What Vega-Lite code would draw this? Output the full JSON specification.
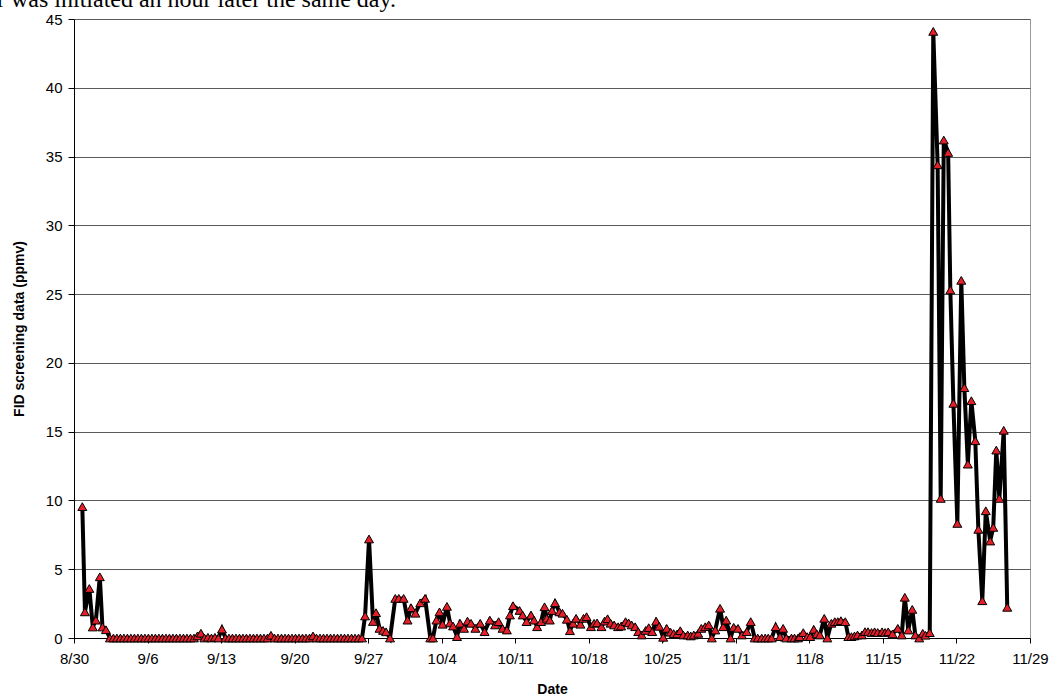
{
  "$schema": "https://vega.github.io/schema/vega-lite/v6.json",
  "autosize": "none",
  "width": 956,
  "height": 619,
  "padding": {"left": 74, "top": 19, "right": 21, "bottom": 60},
  "background": "white",
  "title": {
    "text": "r was initiated an hour later the same day.",
    "anchor": "start",
    "frame": "group",
    "font": "Liberation Serif",
    "fontSize": 24,
    "fontWeight": "normal",
    "color": "black",
    "baseline": "alphabetic",
    "offset": 0,
    "dx": -77,
    "dy": 19
  },
  "config": {
    "font": "Liberation Sans",
    "view": {"stroke": "#9a9a9a", "strokeWidth": 1}
  },
  "data": {
    "values": [
      {"t": "2008-08-30T19:00", "v": 9.55},
      {"t": "2008-08-31T01:00", "v": 1.9},
      {"t": "2008-08-31T11:00", "v": 3.6},
      {"t": "2008-08-31T19:00", "v": 0.8},
      {"t": "2008-09-01T02:00", "v": 1.3},
      {"t": "2008-09-01T11:00", "v": 4.45},
      {"t": "2008-09-01T17:00", "v": 0.8},
      {"t": "2008-09-02T01:00", "v": 0.6},
      {"t": "2008-09-02T10:00", "v": 0},
      {"t": "2008-09-02T18:00", "v": 0},
      {"t": "2008-09-03T02:00", "v": 0},
      {"t": "2008-09-03T10:00", "v": 0},
      {"t": "2008-09-03T18:00", "v": 0},
      {"t": "2008-09-04T02:00", "v": 0},
      {"t": "2008-09-04T10:00", "v": 0},
      {"t": "2008-09-04T18:00", "v": 0},
      {"t": "2008-09-05T02:00", "v": 0},
      {"t": "2008-09-05T10:00", "v": 0},
      {"t": "2008-09-05T18:00", "v": 0},
      {"t": "2008-09-06T02:00", "v": 0},
      {"t": "2008-09-06T10:00", "v": 0},
      {"t": "2008-09-06T18:00", "v": 0},
      {"t": "2008-09-07T02:00", "v": 0},
      {"t": "2008-09-07T10:00", "v": 0},
      {"t": "2008-09-07T18:00", "v": 0},
      {"t": "2008-09-08T02:00", "v": 0},
      {"t": "2008-09-08T10:00", "v": 0},
      {"t": "2008-09-08T18:00", "v": 0},
      {"t": "2008-09-09T02:00", "v": 0},
      {"t": "2008-09-09T10:00", "v": 0},
      {"t": "2008-09-09T18:00", "v": 0},
      {"t": "2008-09-10T02:00", "v": 0},
      {"t": "2008-09-10T10:00", "v": 0},
      {"t": "2008-09-10T18:00", "v": 0.15},
      {"t": "2008-09-11T02:00", "v": 0.35},
      {"t": "2008-09-11T10:00", "v": 0},
      {"t": "2008-09-11T18:00", "v": 0.05},
      {"t": "2008-09-12T02:00", "v": 0},
      {"t": "2008-09-12T10:00", "v": 0.05},
      {"t": "2008-09-12T18:00", "v": 0},
      {"t": "2008-09-13T02:00", "v": 0.65},
      {"t": "2008-09-13T10:00", "v": 0},
      {"t": "2008-09-13T18:00", "v": 0},
      {"t": "2008-09-14T02:00", "v": 0},
      {"t": "2008-09-14T10:00", "v": 0},
      {"t": "2008-09-14T18:00", "v": 0},
      {"t": "2008-09-15T02:00", "v": 0},
      {"t": "2008-09-15T10:00", "v": 0},
      {"t": "2008-09-15T18:00", "v": 0},
      {"t": "2008-09-16T02:00", "v": 0},
      {"t": "2008-09-16T10:00", "v": 0},
      {"t": "2008-09-16T18:00", "v": 0},
      {"t": "2008-09-17T02:00", "v": 0},
      {"t": "2008-09-17T10:00", "v": 0},
      {"t": "2008-09-17T18:00", "v": 0.2},
      {"t": "2008-09-18T02:00", "v": 0},
      {"t": "2008-09-18T10:00", "v": 0},
      {"t": "2008-09-18T18:00", "v": 0},
      {"t": "2008-09-19T02:00", "v": 0},
      {"t": "2008-09-19T10:00", "v": 0},
      {"t": "2008-09-19T18:00", "v": 0},
      {"t": "2008-09-20T02:00", "v": 0},
      {"t": "2008-09-20T10:00", "v": 0},
      {"t": "2008-09-20T18:00", "v": 0},
      {"t": "2008-09-21T02:00", "v": 0},
      {"t": "2008-09-21T10:00", "v": 0},
      {"t": "2008-09-21T18:00", "v": 0.15},
      {"t": "2008-09-22T02:00", "v": 0},
      {"t": "2008-09-22T10:00", "v": 0},
      {"t": "2008-09-22T18:00", "v": 0},
      {"t": "2008-09-23T02:00", "v": 0},
      {"t": "2008-09-23T10:00", "v": 0},
      {"t": "2008-09-23T18:00", "v": 0},
      {"t": "2008-09-24T02:00", "v": 0},
      {"t": "2008-09-24T10:00", "v": 0},
      {"t": "2008-09-24T18:00", "v": 0},
      {"t": "2008-09-25T02:00", "v": 0},
      {"t": "2008-09-25T10:00", "v": 0},
      {"t": "2008-09-25T18:00", "v": 0},
      {"t": "2008-09-26T02:00", "v": 0},
      {"t": "2008-09-26T10:00", "v": 0},
      {"t": "2008-09-26T17:00", "v": 1.6},
      {"t": "2008-09-27T02:00", "v": 7.2},
      {"t": "2008-09-27T11:00", "v": 1.2},
      {"t": "2008-09-27T18:00", "v": 1.84},
      {"t": "2008-09-28T02:00", "v": 0.7},
      {"t": "2008-09-28T10:00", "v": 0.55},
      {"t": "2008-09-28T17:00", "v": 0.45},
      {"t": "2008-09-29T02:00", "v": 0},
      {"t": "2008-09-29T14:00", "v": 2.88},
      {"t": "2008-09-29T22:00", "v": 2.88},
      {"t": "2008-09-30T09:00", "v": 2.88},
      {"t": "2008-09-30T18:00", "v": 1.3},
      {"t": "2008-10-01T02:00", "v": 2.2},
      {"t": "2008-10-01T12:00", "v": 1.8},
      {"t": "2008-10-01T23:00", "v": 2.56},
      {"t": "2008-10-02T10:00", "v": 2.88},
      {"t": "2008-10-02T22:00", "v": 0},
      {"t": "2008-10-03T04:00", "v": 0},
      {"t": "2008-10-03T12:00", "v": 1.3},
      {"t": "2008-10-03T19:00", "v": 1.9},
      {"t": "2008-10-04T02:00", "v": 1.0},
      {"t": "2008-10-04T12:00", "v": 2.3},
      {"t": "2008-10-04T19:00", "v": 1.1},
      {"t": "2008-10-05T02:00", "v": 0.87},
      {"t": "2008-10-05T11:00", "v": 0.1},
      {"t": "2008-10-05T18:00", "v": 1.07},
      {"t": "2008-10-06T03:00", "v": 0.7},
      {"t": "2008-10-06T11:00", "v": 1.23},
      {"t": "2008-10-06T19:00", "v": 1.07},
      {"t": "2008-10-07T05:00", "v": 0.7},
      {"t": "2008-10-07T16:00", "v": 1.07},
      {"t": "2008-10-08T02:00", "v": 0.46},
      {"t": "2008-10-08T14:00", "v": 1.3},
      {"t": "2008-10-09T02:00", "v": 0.95},
      {"t": "2008-10-09T10:00", "v": 1.19},
      {"t": "2008-10-09T19:00", "v": 0.7},
      {"t": "2008-10-10T05:00", "v": 0.58},
      {"t": "2008-10-10T12:00", "v": 1.67},
      {"t": "2008-10-10T19:00", "v": 2.35},
      {"t": "2008-10-11T10:00", "v": 2.0},
      {"t": "2008-10-11T17:00", "v": 1.67},
      {"t": "2008-10-12T02:00", "v": 1.19},
      {"t": "2008-10-12T12:00", "v": 1.67},
      {"t": "2008-10-12T19:00", "v": 1.3},
      {"t": "2008-10-13T02:00", "v": 0.82},
      {"t": "2008-10-13T11:00", "v": 1.19},
      {"t": "2008-10-13T19:00", "v": 2.27},
      {"t": "2008-10-14T00:00", "v": 1.43},
      {"t": "2008-10-14T07:00", "v": 1.3},
      {"t": "2008-10-14T12:00", "v": 2.0},
      {"t": "2008-10-14T19:00", "v": 2.56},
      {"t": "2008-10-15T05:00", "v": 1.9},
      {"t": "2008-10-15T12:00", "v": 1.8},
      {"t": "2008-10-15T22:00", "v": 1.36},
      {"t": "2008-10-16T05:00", "v": 0.53},
      {"t": "2008-10-16T12:00", "v": 1.07},
      {"t": "2008-10-16T19:00", "v": 1.43},
      {"t": "2008-10-17T05:00", "v": 1.0},
      {"t": "2008-10-17T12:00", "v": 1.43},
      {"t": "2008-10-17T19:00", "v": 1.55},
      {"t": "2008-10-18T05:00", "v": 0.82},
      {"t": "2008-10-18T12:00", "v": 1.07},
      {"t": "2008-10-18T19:00", "v": 1.1},
      {"t": "2008-10-19T05:00", "v": 0.82},
      {"t": "2008-10-19T12:00", "v": 1.23},
      {"t": "2008-10-19T19:00", "v": 1.4},
      {"t": "2008-10-20T02:00", "v": 1.07},
      {"t": "2008-10-20T10:00", "v": 0.95},
      {"t": "2008-10-20T19:00", "v": 0.82},
      {"t": "2008-10-21T02:00", "v": 0.87},
      {"t": "2008-10-21T12:00", "v": 1.19},
      {"t": "2008-10-21T19:00", "v": 1.1},
      {"t": "2008-10-22T02:00", "v": 0.95},
      {"t": "2008-10-22T10:00", "v": 0.82},
      {"t": "2008-10-22T17:00", "v": 0.46},
      {"t": "2008-10-23T01:00", "v": 0.22},
      {"t": "2008-10-23T10:00", "v": 0.55},
      {"t": "2008-10-23T17:00", "v": 0.75},
      {"t": "2008-10-24T01:00", "v": 0.46},
      {"t": "2008-10-24T10:00", "v": 1.22},
      {"t": "2008-10-24T17:00", "v": 0.85},
      {"t": "2008-10-25T02:00", "v": 0.05},
      {"t": "2008-10-25T10:00", "v": 0.7},
      {"t": "2008-10-25T19:00", "v": 0.42},
      {"t": "2008-10-26T02:00", "v": 0.32},
      {"t": "2008-10-26T10:00", "v": 0.3},
      {"t": "2008-10-26T17:00", "v": 0.53},
      {"t": "2008-10-27T00:00", "v": 0.22},
      {"t": "2008-10-27T10:00", "v": 0.22},
      {"t": "2008-10-27T17:00", "v": 0.15},
      {"t": "2008-10-28T00:00", "v": 0.22},
      {"t": "2008-10-28T10:00", "v": 0.34},
      {"t": "2008-10-28T17:00", "v": 0.7},
      {"t": "2008-10-29T02:00", "v": 0.82},
      {"t": "2008-10-29T10:00", "v": 0.95},
      {"t": "2008-10-29T17:00", "v": 0},
      {"t": "2008-10-30T01:00", "v": 0.58},
      {"t": "2008-10-30T12:00", "v": 2.16},
      {"t": "2008-10-30T19:00", "v": 0.82},
      {"t": "2008-10-31T02:00", "v": 1.3},
      {"t": "2008-10-31T12:00", "v": 0},
      {"t": "2008-10-31T19:00", "v": 0.78},
      {"t": "2008-11-01T05:00", "v": 0.7},
      {"t": "2008-11-01T14:00", "v": 0.22},
      {"t": "2008-11-02T01:00", "v": 0.46},
      {"t": "2008-11-02T10:00", "v": 1.19},
      {"t": "2008-11-02T19:00", "v": 0},
      {"t": "2008-11-03T02:00", "v": 0},
      {"t": "2008-11-03T11:00", "v": 0},
      {"t": "2008-11-03T19:00", "v": 0},
      {"t": "2008-11-04T02:00", "v": 0},
      {"t": "2008-11-04T10:00", "v": 0},
      {"t": "2008-11-04T19:00", "v": 0.82},
      {"t": "2008-11-05T05:00", "v": 0.1},
      {"t": "2008-11-05T12:00", "v": 0.7},
      {"t": "2008-11-05T19:00", "v": 0},
      {"t": "2008-11-06T07:00", "v": 0},
      {"t": "2008-11-06T14:00", "v": 0},
      {"t": "2008-11-06T22:00", "v": 0},
      {"t": "2008-11-07T02:00", "v": 0.1},
      {"t": "2008-11-07T10:00", "v": 0.39},
      {"t": "2008-11-07T19:00", "v": 0.1},
      {"t": "2008-11-08T02:00", "v": 0.1},
      {"t": "2008-11-08T10:00", "v": 0.63},
      {"t": "2008-11-08T17:00", "v": 0.3},
      {"t": "2008-11-09T00:00", "v": 0.22},
      {"t": "2008-11-09T10:00", "v": 1.43},
      {"t": "2008-11-09T17:00", "v": 0},
      {"t": "2008-11-10T02:00", "v": 1.07},
      {"t": "2008-11-10T10:00", "v": 1.19},
      {"t": "2008-11-10T17:00", "v": 1.19},
      {"t": "2008-11-11T00:00", "v": 1.26},
      {"t": "2008-11-11T10:00", "v": 1.19},
      {"t": "2008-11-11T17:00", "v": 0.1},
      {"t": "2008-11-12T00:00", "v": 0.1},
      {"t": "2008-11-12T07:00", "v": 0.15},
      {"t": "2008-11-12T14:00", "v": 0.22},
      {"t": "2008-11-13T00:00", "v": 0.22},
      {"t": "2008-11-13T07:00", "v": 0.46},
      {"t": "2008-11-13T14:00", "v": 0.46},
      {"t": "2008-11-13T22:00", "v": 0.4},
      {"t": "2008-11-14T05:00", "v": 0.45},
      {"t": "2008-11-14T12:00", "v": 0.4},
      {"t": "2008-11-14T22:00", "v": 0.45},
      {"t": "2008-11-15T05:00", "v": 0.4},
      {"t": "2008-11-15T12:00", "v": 0.45},
      {"t": "2008-11-15T22:00", "v": 0.3},
      {"t": "2008-11-16T10:00", "v": 0.7},
      {"t": "2008-11-16T19:00", "v": 0.22},
      {"t": "2008-11-17T02:00", "v": 2.96},
      {"t": "2008-11-17T10:00", "v": 0.58},
      {"t": "2008-11-17T19:00", "v": 2.08},
      {"t": "2008-11-18T02:00", "v": 0.22},
      {"t": "2008-11-18T11:00", "v": 0},
      {"t": "2008-11-18T19:00", "v": 0.34},
      {"t": "2008-11-19T01:00", "v": 0.2},
      {"t": "2008-11-19T11:00", "v": 0.39},
      {"t": "2008-11-19T19:00", "v": 44.1},
      {"t": "2008-11-20T05:00", "v": 34.4},
      {"t": "2008-11-20T12:00", "v": 10.15},
      {"t": "2008-11-20T19:00", "v": 36.2},
      {"t": "2008-11-21T05:00", "v": 35.3},
      {"t": "2008-11-21T10:00", "v": 25.3},
      {"t": "2008-11-21T17:00", "v": 17.06},
      {"t": "2008-11-22T02:00", "v": 8.33},
      {"t": "2008-11-22T11:00", "v": 26.0},
      {"t": "2008-11-22T18:00", "v": 18.2},
      {"t": "2008-11-23T02:00", "v": 12.64},
      {"t": "2008-11-23T10:00", "v": 17.25},
      {"t": "2008-11-23T19:00", "v": 14.34},
      {"t": "2008-11-24T02:00", "v": 7.9},
      {"t": "2008-11-24T11:00", "v": 2.71},
      {"t": "2008-11-24T19:00", "v": 9.25},
      {"t": "2008-11-25T05:00", "v": 7.05},
      {"t": "2008-11-25T12:00", "v": 8.04},
      {"t": "2008-11-25T19:00", "v": 13.66},
      {"t": "2008-11-26T02:00", "v": 10.15},
      {"t": "2008-11-26T12:00", "v": 15.1},
      {"t": "2008-11-26T20:00", "v": 2.23}
    ]
  },
  "encoding": {
    "x": {
      "field": "t",
      "type": "temporal",
      "scale": {
        "domain": [{"year": 2008, "month": 8, "date": 30}, {"year": 2008, "month": 11, "date": 29}],
        "nice": false
      },
      "axis": {
        "values": [
          {"year": 2008, "month": 8, "date": 30},
          {"year": 2008, "month": 9, "date": 6},
          {"year": 2008, "month": 9, "date": 13},
          {"year": 2008, "month": 9, "date": 20},
          {"year": 2008, "month": 9, "date": 27},
          {"year": 2008, "month": 10, "date": 4},
          {"year": 2008, "month": 10, "date": 11},
          {"year": 2008, "month": 10, "date": 18},
          {"year": 2008, "month": 10, "date": 25},
          {"year": 2008, "month": 11, "date": 1},
          {"year": 2008, "month": 11, "date": 8},
          {"year": 2008, "month": 11, "date": 15},
          {"year": 2008, "month": 11, "date": 22},
          {"year": 2008, "month": 11, "date": 29}
        ],
        "format": "%-m/%-d",
        "title": "Date",
        "titleFont": "Liberation Sans",
        "titleFontSize": 14,
        "titleFontWeight": "bold",
        "titleColor": "black",
        "titlePadding": 16,
        "labelFont": "Liberation Sans",
        "labelFontSize": 15,
        "labelColor": "black",
        "labelPadding": 8,
        "labelAngle": 0,
        "labelOverlap": false,
        "labelFlush": false,
        "grid": false,
        "domainColor": "black",
        "domainWidth": 1,
        "tickColor": "black",
        "tickSize": 5
      }
    },
    "y": {
      "field": "v",
      "type": "quantitative",
      "scale": {"domain": [0, 45], "nice": false, "zero": true},
      "axis": {
        "values": [0, 5, 10, 15, 20, 25, 30, 35, 40, 45],
        "title": "FID screening data (ppmv)",
        "titleFont": "Liberation Sans",
        "titleFontSize": 14,
        "titleFontWeight": "bold",
        "titleColor": "black",
        "titlePadding": 19,
        "labelFont": "Liberation Sans",
        "labelFontSize": 15,
        "labelColor": "black",
        "labelPadding": 6,
        "grid": true,
        "gridColor": "#5a5a5a",
        "gridWidth": 1,
        "domainColor": "black",
        "domainWidth": 1,
        "tickColor": "black",
        "tickSize": 6
      }
    }
  },
  "layer": [
    {
      "mark": {"type": "line", "color": "black", "strokeWidth": 4, "strokeJoin": "miter", "strokeMiterLimit": 3}
    },
    {
      "mark": {
        "type": "point",
        "shape": "triangle-up",
        "filled": true,
        "fill": "#e3202a",
        "stroke": "black",
        "strokeWidth": 1,
        "size": 80,
        "opacity": 1
      }
    }
  ]
}
